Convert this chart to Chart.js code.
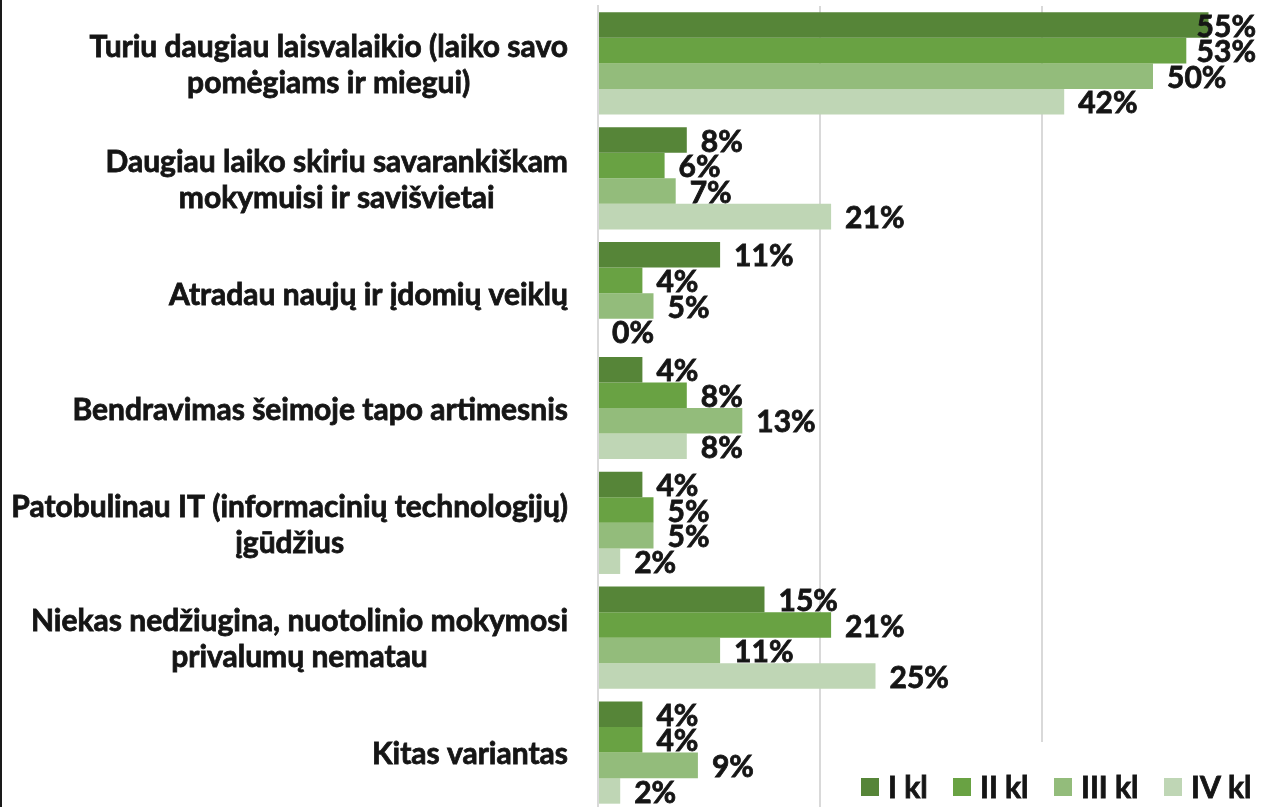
<!DOCTYPE html>
<html lang="lt">

<head>
  <meta charset="UTF-8">
  <title>Nuotolinio mokymosi privalumai</title>
  <script src="https://cdn.jsdelivr.net/npm/chart.js"></script>
  <style>
    html,
    body {
      margin: 0;
      padding: 0;
      background: #fff;
      overflow: hidden;
    }

    .grafico {
      width: 1266px;
      height: 812px;
    }
  </style>
</head>

<body>
  <div class="grafico">
    <canvas id="gf1"></canvas>
  </div>

  <script>
    // duomenys
    const kategorijos = [
      ['Turiu daugiau laisvalaikio (laiko savo', 'pomėgiams ir miegui)'],
      ['Daugiau laiko skiriu savarankiškam', 'mokymuisi ir savišvietai'],
      ['Atradau naujų ir įdomių veiklų'],
      ['Bendravimas šeimoje tapo artimesnis'],
      ['Patobulinau IT (informacinių technologijų)', 'įgūdžius'],
      ['Niekas nedžiugina, nuotolinio mokymosi', 'privalumų nematau'],
      ['Kitas variantas']
    ]
    const serijos = ['I kl', 'II kl', 'III kl', 'IV kl']
    const klI = [55, 8, 11, 4, 4, 15, 4]
    const klII = [53, 6, 4, 8, 5, 21, 4]
    const klIII = [50, 7, 5, 13, 5, 11, 9]
    const klIV = [42, 21, 0, 8, 2, 25, 2]
    const xTicks = [0, 20, 40, 60]

    const spalvos = ['#568538', '#69a243', '#93bc7b', '#bfd6b5']
    const fontas = 'bold 30px Lato'

    function tekstas(ctx, t, x, y) {
      ctx.strokeText(t, x, y)
      ctx.fillText(t, x, y)
    }

    // etiketes, legenda ir kairinis kraštas
    const piesimas = {
      id: 'piesimas',
      afterDatasetsDraw(chart) {
        const ctx = chart.ctx
        ctx.save()
        ctx.font = fontas
        ctx.fillStyle = '#151515'
        ctx.strokeStyle = '#151515'
        ctx.lineWidth = 0.8
        ctx.textBaseline = 'middle'
        ctx.textAlign = 'left'
        chart.data.datasets.forEach(function (ds, i) {
          const meta = chart.getDatasetMeta(i)
          meta.data.forEach(function (bar, j) {
            const txt = ds.data[j] + '%'
            const w = ctx.measureText(txt).width
            let x = bar.x + 14
            if (x + w > 1256) x = 1256 - w
            tekstas(ctx, txt, x, bar.y + 2)
          })
        })

        // kategoriju pavadinimai
        const y = chart.scales.y
        kategorijos.forEach(function (eil, i) {
          const cy = y.getPixelForValue(i)
          let maxW = 0
          eil.forEach(function (t) { maxW = Math.max(maxW, ctx.measureText(t).width) })
          const cx = 568 - maxW / 2
          ctx.textAlign = 'center'
          eil.forEach(function (t, k) {
            tekstas(ctx, t, cx, cy + 2 + (k - (eil.length - 1) / 2) * 36)
          })
        })

        // legenda
        ctx.fillStyle = '#fff'
        ctx.fillRect(840, 742, 430, 80)
        const lx = [861, 953, 1054, 1164]
        serijos.forEach(function (s, i) {
          ctx.fillStyle = spalvos[i]
          ctx.fillRect(lx[i], 778, 18, 18)
          ctx.fillStyle = '#151515'
          ctx.textAlign = 'left'
          tekstas(ctx, s, lx[i] + 27, 788)
        })

        ctx.fillStyle = '#1a1a1a'
        ctx.fillRect(0, 0, 2, chart.height)
        ctx.restore()
      }
    }

    const ctx = document.getElementById('gf1').getContext('2d')
    new Chart(ctx, {
      type: 'bar',
      data: {
        labels: kategorijos.map(function (k) { return k.join(' ') }),
        datasets: [
          { label: serijos[0], data: klI, backgroundColor: spalvos[0] },
          { label: serijos[1], data: klII, backgroundColor: spalvos[1] },
          { label: serijos[2], data: klIII, backgroundColor: spalvos[2] },
          { label: serijos[3], data: klIV, backgroundColor: spalvos[3] }
        ]
      },
      options: {
        indexAxis: 'y',
        responsive: true,
        maintainAspectRatio: false,
        animation: false,
        categoryPercentage: 0.89,
        barPercentage: 1,
        layout: { padding: { top: 6, bottom: 2, right: 2, left: 0 } },
        plugins: {
          legend: { display: false },
          tooltip: { enabled: false }
        },
        scales: {
          x: {
            min: xTicks[0],
            max: xTicks[xTicks.length - 1],
            afterBuildTicks: function (ax) {
              ax.ticks = xTicks.map(function (v) { return { value: v } })
            },
            ticks: { display: false },
            grid: { color: '#d9d9d9', lineWidth: 2, drawTicks: false },
            border: { display: false }
          },
          y: {
            ticks: { display: false },
            grid: { display: false, drawTicks: false },
            border: { color: '#d9d9d9', width: 2 },
            afterFit: function (ax) { ax.width = 598 }
          }
        }
      },
      plugins: [piesimas]
    })
  </script>
</body>

</html>
